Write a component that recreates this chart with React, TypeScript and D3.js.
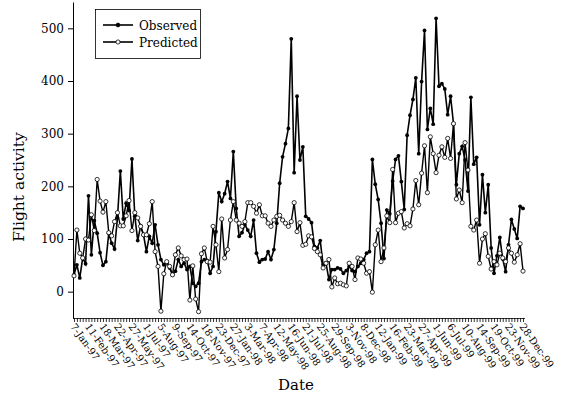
import * as d3 from 'd3';
import React, { useEffect, useRef } from 'react';

// weekly flight activity, 7-Jan-97 .. 28-Dec-99
const tickLabels = [
    '7-Jan-97', '11-Feb-97', '18-Mar-97', '22-Apr-97', '27-May-97', '1-Jul-97', '5-Aug-97', '9-Sep-97',
    '14-Oct-97', '18-Nov-97', '23-Dec-97', '27-Jan-98', '3-Mar-98', '7-Apr-98', '12-May-98', '16-Jun-98',
    '21-Jul-98', '25-Aug-98', '29-Sep-98', '3-Nov-98', '8-Dec-98', '12-Jan-99', '16-Feb-99', '23-Mar-99',
    '27-Apr-99', '1-Jun-99', '6-Jul-99', '10-Aug-99', '14-Sep-99', '19-Oct-99', '23-Nov-99', '28-Dec-99',
];

const observed = [
    32, 51, 26, 64, 53, 182, 70, 135, 111, 74,
    50, 57, 111, 92, 81, 140, 229, 138, 168, 154,
    252, 143, 97, 125, 108, 76, 105, 92, 127, 89,
    61, 51, 57, 45, 32, 39, 61, 48, 54, 42,
    48, 16, 10, 16, 57, 61, 59, 35, 48, 114,
    188, 171, 186, 209, 177, 266, 158, 105, 112, 127,
    117, 105, 136, 73, 56, 61, 62, 76, 61, 80,
    130, 206, 256, 281, 310, 480, 226, 371, 250, 275,
    143, 138, 131, 86, 83, 97, 51, 54, 23, 42,
    42, 45, 43, 35, 40, 48, 40, 38, 48, 54,
    61, 73, 76, 251, 204, 175, 130, 63, 155, 148,
    210, 251, 258, 209, 156, 297, 335, 365, 406, 262,
    399, 496, 308, 348, 318, 519, 390, 395, 385, 336,
    371, 319, 203, 262, 276, 250, 191, 369, 242, 255,
    127, 222, 150, 203, 83, 35, 68, 103, 62, 38,
    89, 137, 119, 101, 162, 158,
];

const predicted = [
    30, 117, 73, 64, 100, 98, 146, 116, 213, 172,
    151, 171, 112, 106, 133, 150, 125, 125, 144, 173,
    116, 150, 140, 124, 108, 108, 129, 171, 76, 48,
    -37, 34, 57, 48, 32, 70, 83, 68, 61, 62,
    -16, 49, -14, -38, 72, 83, 57, 56, 124, 89,
    38, 138, 64, 80, 136, 171, 136, 130, 124, 133,
    169, 169, 162, 149, 165, 144, 144, 130, 124, 136,
    143, 145, 136, 130, 124, 133, 169, 114, 131, 88,
    90, 106, 104, 82, 76, 70, 45, 54, 61, 9,
    26, 15, 16, 13, 11, 54, 48, 23, 64, 62,
    54, 35, 38, -1, 89, 117, 57, 83, 144, 131,
    232, 131, 149, 152, 121, 129, 125, 157, 211, 165,
    225, 277, 188, 294, 262, 226, 259, 275, 255, 291,
    253, 319, 176, 193, 169, 283, 231, 124, 117, 136,
    54, 100, 110, 67, 43, 57, 51, 73, 64, 57,
    83, 73, 56, 70, 91, 39,
];

const yTicks = [0, 100, 200, 300, 400, 500];

export default () => {
    const ref = useRef<any>();

    useEffect(() => {
        const svg = d3.select<any, any>(ref.current);
        svg.selectAll('*').remove();

        const font = 'DejaVu Serif';

        const xScale = d3.scaleLinear().domain([0, observed.length - 1]).range([74, 523]);
        const yScale = d3.scaleLinear().domain([-50, 550]).range([318, 2]);

        // Y axis
        const yAxis = d3.axisLeft(yScale).tickValues(yTicks).tickSize(5).tickSizeOuter(0).tickPadding(4);
        const yg = svg.append('g').attr('transform', 'translate(73,0)').call(yAxis);
        yg.selectAll('text').attr('font-family', font).attr('font-size', 12).attr('fill', '#000');
        yg.selectAll('line, path').attr('stroke', '#000');

        // X axis: one tick per week, label every 5th week
        const xAxis = d3.axisBottom(xScale)
            .tickValues(d3.range(observed.length))
            .tickSize(4)
            .tickSizeOuter(0)
            .tickFormat(() => '');
        const xg = svg.append('g').attr('transform', 'translate(0,318)').call(xAxis);
        xg.selectAll('line, path').attr('stroke', '#000').attr('stroke-width', 0.8);
        xg.select('path').attr('d', 'M73,0.5H525');

        svg.append('g')
            .selectAll('text')
            .data(tickLabels)
            .join('text')
            .attr('transform', (d: any, i: number) => `translate(${xScale(i * 5) + 1},323) rotate(55)`)
            .attr('dy', '0.6em')
            .attr('font-family', font)
            .attr('font-size', 10)
            .text((d: any) => d);

        // axis titles
        svg.append('text')
            .attr('x', 296).attr('y', 390)
            .attr('text-anchor', 'middle')
            .attr('font-family', font).attr('font-size', 15)
            .text('Date');
        svg.append('text')
            .attr('transform', 'translate(24,187) rotate(-90)')
            .attr('text-anchor', 'middle')
            .attr('font-family', font).attr('font-size', 15.5)
            .text('Flight activity');

        const line = d3.line<number>()
            .x((d, i) => xScale(i))
            .y(d => yScale(d));

        // predicted underneath, observed on top
        svg.append('path')
            .attr('d', line(predicted))
            .attr('fill', 'none').attr('stroke', '#000').attr('stroke-width', 1.4);
        svg.append('path')
            .attr('d', line(observed))
            .attr('fill', 'none').attr('stroke', '#000').attr('stroke-width', 1.6);

        svg.append('g').selectAll('circle')
            .data(observed)
            .join('circle')
            .attr('cx', (d: any, i: number) => xScale(i))
            .attr('cy', (d: any) => yScale(d))
            .attr('r', 1.9)
            .attr('fill', '#000');

        svg.append('g').selectAll('circle')
            .data(predicted)
            .join('circle')
            .attr('cx', (d: any, i: number) => xScale(i))
            .attr('cy', (d: any) => yScale(d))
            .attr('r', 2.1)
            .attr('fill', '#fff')
            .attr('stroke', '#000')
            .attr('stroke-width', 0.8);

        // legend
        const legend = svg.append('g');
        legend.append('rect')
            .attr('x', 95.5).attr('y', 9.5).attr('width', 105).attr('height', 49)
            .attr('fill', '#fff').attr('stroke', '#000').attr('stroke-width', 0.8);
        const items = [
            { name: 'Observed', y: 25, filled: true },
            { name: 'Predicted', y: 42, filled: false },
        ];
        items.forEach(item => {
            legend.append('line')
                .attr('x1', 103).attr('x2', 133).attr('y1', item.y).attr('y2', item.y)
                .attr('stroke', '#000').attr('stroke-width', 1.6);
            legend.append('circle')
                .attr('cx', 118).attr('cy', item.y)
                .attr('r', item.filled ? 1.9 : 2.1)
                .attr('fill', item.filled ? '#000' : '#fff')
                .attr('stroke', '#000').attr('stroke-width', 0.8);
            legend.append('text')
                .attr('x', 139).attr('y', item.y + 4.5)
                .attr('font-family', font).attr('font-size', 12)
                .text(item.name);
        });
    }, []);

    return (
        <svg ref={ref} width={561} height={394}
            style={{ position: 'absolute', left: 0, top: 0, background: '#fff' }}></svg>
    );
};
